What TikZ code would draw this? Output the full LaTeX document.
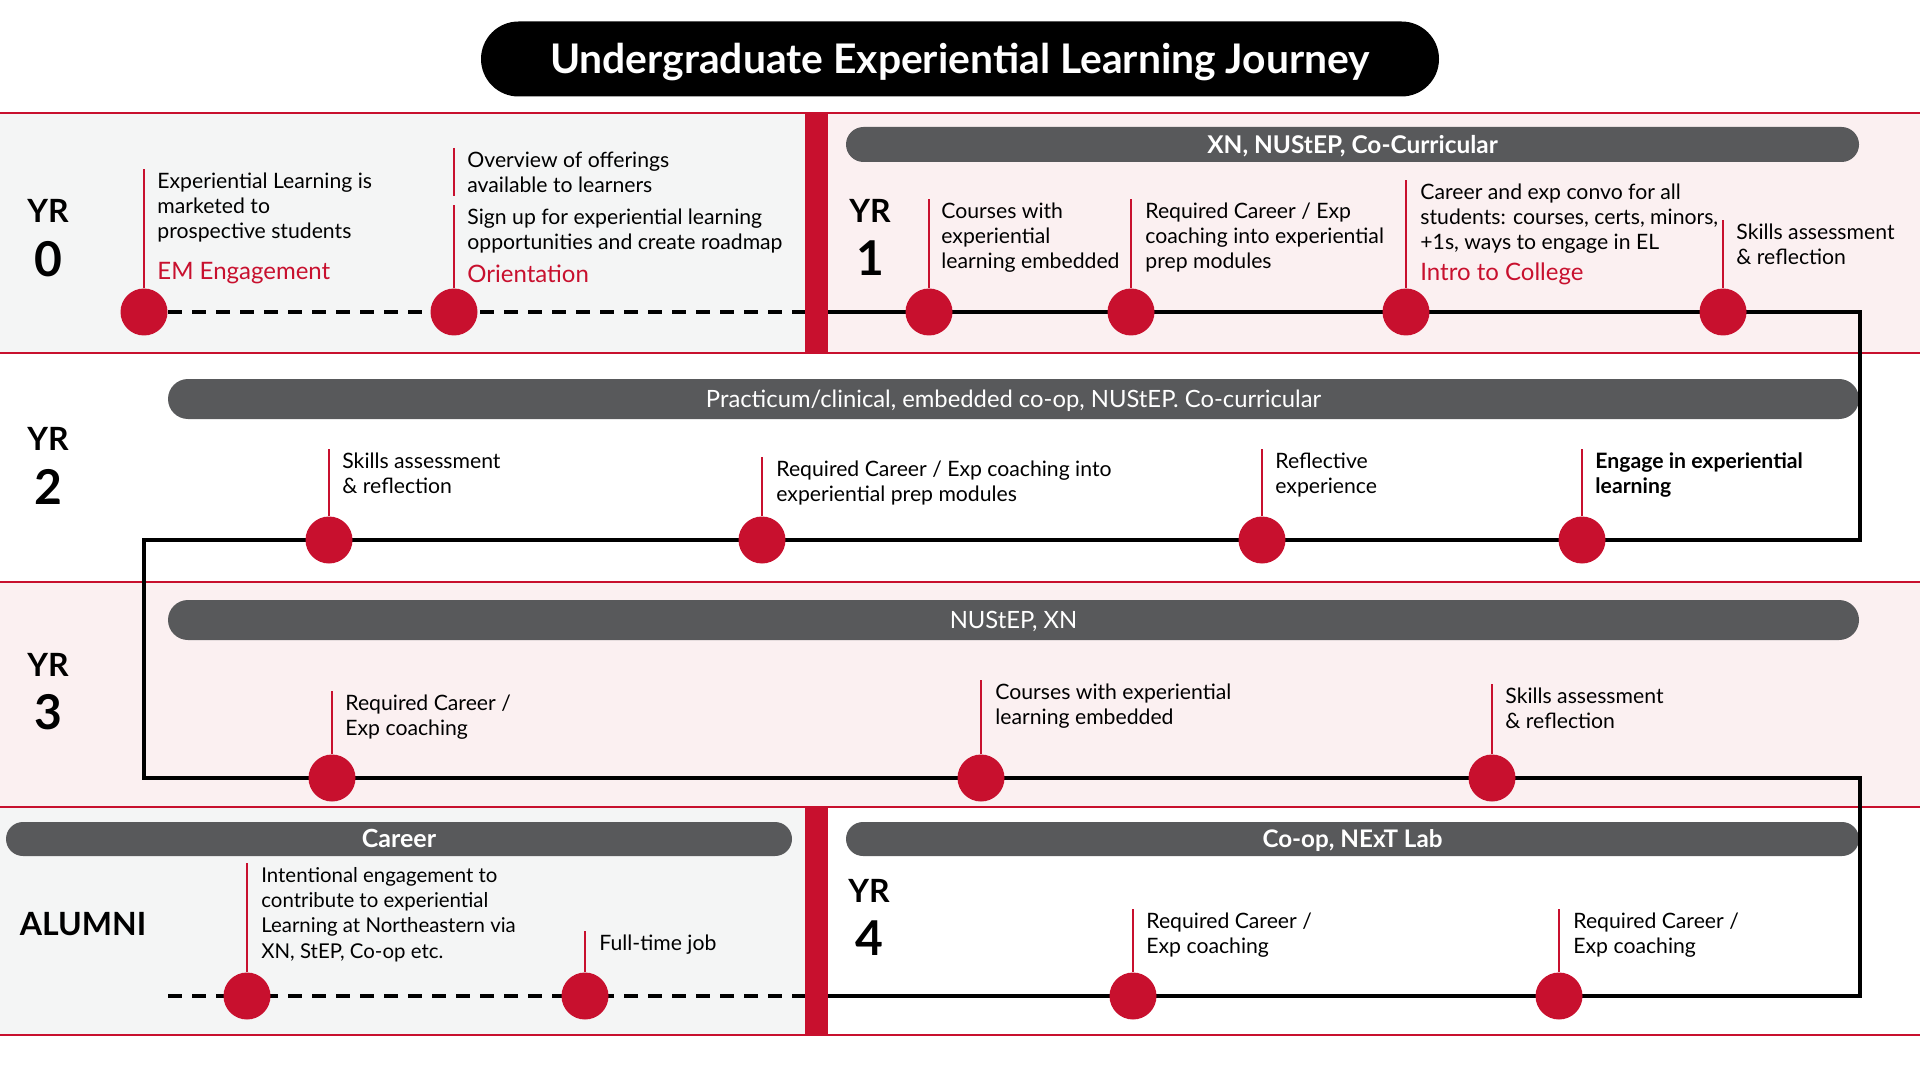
\documentclass[tikz,border=0pt]{standalone}
\usepackage{fontspec}
\setmainfont{Lato}
\usepackage{tikz}
\usetikzlibrary{positioning,calc}
\definecolor{nured}{HTML}{C8102E}
\definecolor{pillgray}{HTML}{58595B}
\definecolor{bggray}{HTML}{F4F5F5}
\definecolor{bgpink}{HTML}{FBF0F1}
\tikzstyle{milestone} = [circle, fill=nured, minimum size=23.5pt, inner sep=0pt]
\tikzstyle{desc} = [anchor=north west, inner sep=0pt, outer ysep=2pt, align=left, font=\fontsize{10.6}{12.4}\selectfont]
\tikzstyle{redtag} = [anchor=west, inner sep=0pt, text=nured, font=\fontsize{12}{13}\selectfont]
\tikzstyle{bandpill} = [fill=pillgray, text=white, inner sep=0pt, text height=8.7pt, text depth=0pt]
\tikzstyle{yrlabel} = [inner sep=0pt, font=\fontsize{16}{16}\selectfont\bfseries]
\tikzstyle{yrnum} = [inner sep=0pt, font=\fontsize{24}{24}\selectfont\bfseries]
\tikzstyle{stem} = [draw=nured, line width=0.75pt]
\tikzstyle{track} = [draw=black, line width=1.8pt]
\tikzstyle{future} = [track, dash pattern=on 7pt off 5pt]
\tikzstyle{sep} = [draw=nured, line width=0.75pt]

\begin{document}
\begin{tikzpicture}[x=0.5pt, y=-0.5pt]
    \useasboundingbox (0,0) rectangle (1920,1080);
    % Backgrounds
    \fill [bggray] (0,113) rectangle (805,353);
    \fill [bgpink] (828,113) rectangle (1920,353);
    \fill [bgpink] (0,582) rectangle (1920,807);
    \fill [bggray] (0,807) rectangle (805,1035);
    \fill [nured] (805,113) rectangle (828,353);
    \fill [nured] (805,807) rectangle (828,1035);
    \foreach \y in {113,353,582,807,1035}
        \draw [sep] (0,\y) -- (1920,\y);

    % Title
    \node [fill=black, text=white, rounded corners=18.75pt, minimum width=479pt, minimum height=37.5pt,
        text height=14.6pt, text depth=0pt,
        font=\fontsize{20.4}{21}\selectfont\bfseries] (title) at (960,59) {Undergraduate Experiential Learning Journey};

    % Bands
    \node [bandpill, rounded corners=8.75pt, minimum width=506.5pt, minimum height=17.5pt,
        font=\fontsize{12.2}{13}\selectfont\bfseries] (p1) at (1352.5,144.5) {XN, NUStEP, Co-Curricular};
    \node [bandpill, rounded corners=10pt, minimum width=845.5pt, minimum height=20pt,
        font=\fontsize{11.9}{12}\selectfont] (p2) at (1013.5,399) {Practicum/clinical, embedded co-op, NUStEP. Co-curricular};
    \node [bandpill, rounded corners=10pt, minimum width=845.5pt, minimum height=20pt,
        font=\fontsize{11.9}{12}\selectfont] (p3) at (1013.5,620) {NUStEP, XN};
    \node [bandpill, rounded corners=8.5pt, minimum width=393pt, minimum height=17pt,
        font=\fontsize{12.5}{13}\selectfont\bfseries] (p4) at (399,839) {Career};
    \node [bandpill, rounded corners=8.5pt, minimum width=506.5pt, minimum height=17pt,
        font=\fontsize{12.1}{13}\selectfont\bfseries] (p5) at (1352.5,839) {Co-op, NExT Lab};

    % Year labels
    \node [yrlabel] (yr0) at (48,211) {YR};
    \node [yrnum] (yr0n) at (48,259) {0};
    \node [yrlabel] (yr1) at (870,211) {YR};
    \node [yrnum] (yr1n) at (870,258) {1};
    \node [yrlabel] (yr2) at (48,439) {YR};
    \node [yrnum] (yr2n) at (48,487) {2};
    \node [yrlabel] (yr3) at (48,665) {YR};
    \node [yrnum] (yr3n) at (48,712) {3};
    \node [yrlabel] (yr4) at (869,891) {YR};
    \node [yrnum] (yr4n) at (869,938) {4};
    \node [yrlabel] (alumni) at (83,924) {ALUMNI};

    % Track
    \coordinate (y0s) at (168,312);
    \coordinate (bar0) at (805,312);
    \coordinate (y1s) at (828,312);
    \coordinate (c1) at (1860,312);
    \coordinate (c2) at (1860,540);
    \coordinate (c3) at (144,540);
    \coordinate (c4) at (144,778);
    \coordinate (c5) at (1860,778);
    \coordinate (c6) at (1860,996);
    \coordinate (y4s) at (828,996);
    \coordinate (als) at (168,996);
    \coordinate (bar1) at (805,996);
    \draw [future] (y0s) -- (bar0);
    \draw [track] (y1s) -- (c1) -- (c2) -- (c3) -- (c4) -- (c5) -- (c6) -- (y4s);
    \draw [future] (als) -- (bar1);

    % Year 0
    \node [milestone] (d01) at (144,312) {};
    \node [milestone] (d02) at (454,312) {};
    \node [desc] (n01) at (157,169) {Experiential Learning is\\marketed to\\prospective students};
    \node [redtag] (l01) at (157,273) {EM Engagement};
    \node [desc] (n02a) at (467,148) {Overview of offerings\\available to learners};
    \node [desc] (n02) at (467,205) {Sign up for experiential learning\\opportunities and create roadmap};
    \node [redtag] (l02) at (467,274) {Orientation};

    % Year 1
    \node [milestone] (d11) at (929,312) {};
    \node [milestone] (d12) at (1131,312) {};
    \node [milestone] (d13) at (1406,312) {};
    \node [milestone] (d14) at (1723,312) {};
    \node [desc] (n11) at (941,199) {Courses with\\experiential\\learning embedded};
    \node [desc] (n12) at (1145,199) {Required Career / Exp\\coaching into experiential\\prep modules};
    \node [desc] (n13) at (1420,180) {Career and exp convo for all\\students: courses, certs, minors,\\+1s, ways to engage in EL};
    \node [redtag] (l13) at (1420,274) {Intro to College};
    \node [desc] (n14) at (1736,220) {Skills assessment\\\& reflection};

    % Year 2
    \node [milestone] (d21) at (329,540) {};
    \node [milestone] (d22) at (762,540) {};
    \node [milestone] (d23) at (1262,540) {};
    \node [milestone] (d24) at (1582,540) {};
    \node [desc] (n21) at (342,449) {Skills assessment\\\& reflection};
    \node [desc] (n22) at (776,457) {Required Career / Exp coaching into\\experiential prep modules};
    \node [desc] (n23) at (1275,449) {Reflective\\experience};
    \node [desc, font=\fontsize{10.6}{12.4}\selectfont\bfseries] (n24) at (1595,449) {Engage in experiential\\learning};

    % Year 3
    \node [milestone] (d31) at (332,778) {};
    \node [milestone] (d32) at (981,778) {};
    \node [milestone] (d33) at (1492,778) {};
    \node [desc] (n31) at (345,691) {Required Career /\\Exp coaching};
    \node [desc] (n32) at (995,680) {Courses with experiential\\learning embedded};
    \node [desc] (n33) at (1505,684) {Skills assessment\\\& reflection};

    % Alumni and year 4
    \node [milestone] (d41) at (247,996) {};
    \node [milestone] (d42) at (585,996) {};
    \node [milestone] (d51) at (1133,996) {};
    \node [milestone] (d52) at (1559,996) {};
    \node [desc, font=\fontsize{10.2}{12.7}\selectfont] (n41) at (261,863) {Intentional engagement to\\contribute to experiential\\Learning at Northeastern via\\XN, StEP, Co-op etc.};
    \node [desc] (n42) at (599,931) {Full-time job};
    \node [desc] (n51) at (1146,909) {Required Career /\\Exp coaching};
    \node [desc] (n52) at (1573,909) {Required Career /\\Exp coaching};

    % Stems
    \foreach \d/\n in {d01/n01, d02/n02, d11/n11, d12/n12, d13/n13, d14/n14, d21/n21, d22/n22, d23/n23, d24/n24,
        d31/n31, d32/n32, d33/n33, d41/n41, d42/n42, d51/n51, d52/n52}
        \draw [stem] (\d.north) -- (\d |- \n.north);
    \draw [stem] (d02 |- n02a.north) -- (d02 |- n02a.south);
\end{tikzpicture}
\end{document}
